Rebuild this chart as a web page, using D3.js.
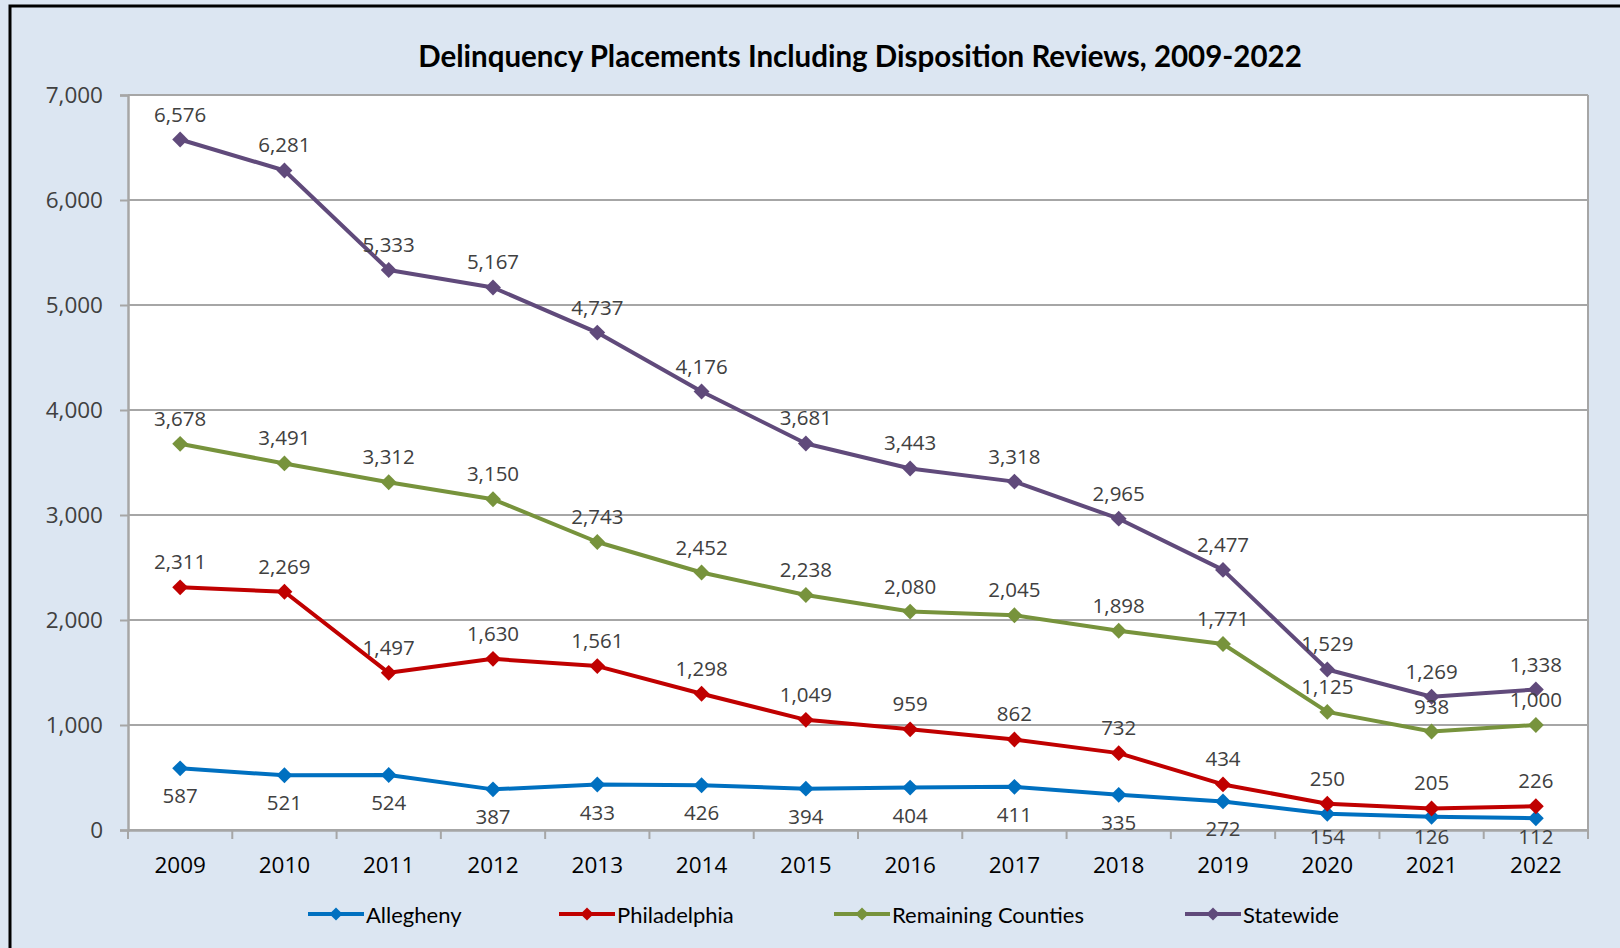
<!DOCTYPE html>
<html>
<head>
<meta charset="utf-8">
<script src="https://cdn.jsdelivr.net/npm/d3@7"></script>
<style>
  html, body { margin: 0; padding: 0; background: #DCE6F2; }
  svg { display: block; }
</style>
</head>
<body>
<svg id="chart" width="1620" height="948"></svg>
<script>
// Delinquency placements by region, 2009-2022
const years = ["2009","2010","2011","2012","2013","2014","2015","2016","2017","2018","2019","2020","2021","2022"];
const allegheny    = [587, 521, 524, 387, 433, 426, 394, 404, 411, 335, 272, 154, 126, 112];
const philadelphia = [2311, 2269, 1497, 1630, 1561, 1298, 1049, 959, 862, 732, 434, 250, 205, 226];
const remaining    = [3678, 3491, 3312, 3150, 2743, 2452, 2238, 2080, 2045, 1898, 1771, 1125, 938, 1000];
const statewide    = [6576, 6281, 5333, 5167, 4737, 4176, 3681, 3443, 3318, 2965, 2477, 1529, 1269, 1338];
const yTicks = [0, 1000, 2000, 3000, 4000, 5000, 6000, 7000];
const seriesNames = ["Allegheny", "Philadelphia", "Remaining Counties", "Statewide"];
const title = "Delinquency Placements Including Disposition Reviews, 2009-2022";

const series = [
  { name: seriesNames[0], values: allegheny,    color: "#0070C0", labelPos: "below" },
  { name: seriesNames[1], values: philadelphia, color: "#C00000", labelPos: "above" },
  { name: seriesNames[2], values: remaining,    color: "#77933C", labelPos: "above" },
  { name: seriesNames[3], values: statewide,    color: "#604A7B", labelPos: "above" }
];

const svg = d3.select("#chart");
const W = 1620, H = 948;
const plot = { left: 128, right: 1588, top: 95, bottom: 830 };
const gridColor = "#A6A6A6";
const labelFont = "'Open Sans', sans-serif";
const titleFont = "Lato, 'Open Sans', sans-serif";

// chart area background and frame
svg.append("rect").attr("x", 0).attr("y", 0).attr("width", W).attr("height", H).attr("fill", "#DCE6F2");
svg.append("rect").attr("x", 10).attr("y", 6).attr("width", W + 20).attr("height", H + 20)
  .attr("fill", "none").attr("stroke", "#000").attr("stroke-width", 3);

// plot area
svg.append("rect")
  .attr("x", plot.left).attr("y", plot.top)
  .attr("width", plot.right - plot.left).attr("height", plot.bottom - plot.top)
  .attr("fill", "#fff");

const x = d3.scaleBand().domain(years).range([plot.left, plot.right]).padding(0);
const y = d3.scaleLinear().domain([0, 7000]).range([plot.bottom, plot.top]);
const cx = d => x(d) + x.bandwidth() / 2;

// horizontal gridlines
svg.append("g").selectAll("line").data(yTicks).join("line")
  .attr("x1", plot.left).attr("x2", plot.right)
  .attr("y1", d => y(d)).attr("y2", d => y(d))
  .attr("stroke", gridColor).attr("stroke-width", 2);

// right edge of plot area
svg.append("line")
  .attr("x1", plot.right).attr("x2", plot.right)
  .attr("y1", plot.top).attr("y2", plot.bottom)
  .attr("stroke", gridColor).attr("stroke-width", 2);

// y axis
const yAxis = svg.append("g")
  .attr("transform", `translate(${plot.left},0)`)
  .call(d3.axisLeft(y).tickValues(yTicks).tickSize(8).tickPadding(17).tickFormat(d3.format(",")));
yAxis.select(".domain").attr("stroke", gridColor).attr("stroke-width", 2.5);
yAxis.selectAll(".tick line").attr("stroke", gridColor).attr("stroke-width", 2);
yAxis.selectAll(".tick text").attr("fill", "#404040")
  .style("font-family", labelFont).style("font-size", "22.5px");

// x axis with tick marks between categories
const xAxis = svg.append("g")
  .attr("transform", `translate(0,${plot.bottom})`)
  .call(d3.axisBottom(x).tickSize(0).tickPadding(27));
xAxis.select(".domain").attr("stroke", gridColor).attr("stroke-width", 2.5);
xAxis.selectAll(".tick text").attr("fill", "#000")
  .style("font-family", labelFont).style("font-size", "22.5px");
const bounds = years.map(d => x(d)).concat([plot.right]);
xAxis.append("g").selectAll("line").data(bounds).join("line")
  .attr("x1", d => d).attr("x2", d => d).attr("y1", 0).attr("y2", 9)
  .attr("stroke", gridColor).attr("stroke-width", 2);

// series lines, markers and value labels
const line = d3.line().x((d, i) => cx(years[i])).y(d => y(d));
const diamond = d3.symbol().type(d3.symbolDiamond2).size(160);
const fmt = d3.format(",");

series.forEach(s => {
  const g = svg.append("g");
  g.append("path").datum(s.values)
    .attr("d", line).attr("fill", "none")
    .attr("stroke", s.color).attr("stroke-width", 4).attr("stroke-linejoin", "round");
  g.selectAll("path.pt").data(s.values).join("path").attr("class", "pt")
    .attr("d", diamond)
    .attr("transform", (d, i) => `translate(${cx(years[i])},${y(d)})`)
    .attr("fill", s.color);
});

series.forEach(s => {
  svg.append("g").selectAll("text").data(s.values).join("text")
    .attr("x", (d, i) => cx(years[i]))
    .attr("y", d => s.labelPos === "above" ? y(d) - 26 : Math.min(y(d) + 27, plot.bottom + 6))
    .attr("text-anchor", "middle").attr("dominant-baseline", "central")
    .attr("fill", "#404040")
    .style("font-family", labelFont).style("font-size", "20.5px")
    .text(d => fmt(d));
});

// title
svg.append("text")
  .attr("x", 860).attr("y", 55)
  .attr("text-anchor", "middle").attr("dominant-baseline", "central")
  .attr("fill", "#000").style("font-family", titleFont)
  .style("font-weight", "bold").style("font-size", "29.5px")
  .text(title);

// legend
const legendX = [308, 559, 834, 1185];
const legendY = 914;
const legend = svg.append("g").selectAll("g").data(series).join("g")
  .attr("transform", (d, i) => `translate(${legendX[i]},${legendY})`);
legend.append("line").attr("x1", 0).attr("x2", 56).attr("y1", 0).attr("y2", 0)
  .attr("stroke", d => d.color).attr("stroke-width", 4);
legend.append("path").attr("d", d3.symbol().type(d3.symbolDiamond2).size(110))
  .attr("transform", "translate(28,0)").attr("fill", d => d.color);
legend.append("text").attr("x", 58).attr("y", 0).attr("dominant-baseline", "central")
  .attr("fill", "#000").style("font-family", titleFont).style("font-size", "22px")
  .text(d => d.name);
</script>
</body>
</html>
